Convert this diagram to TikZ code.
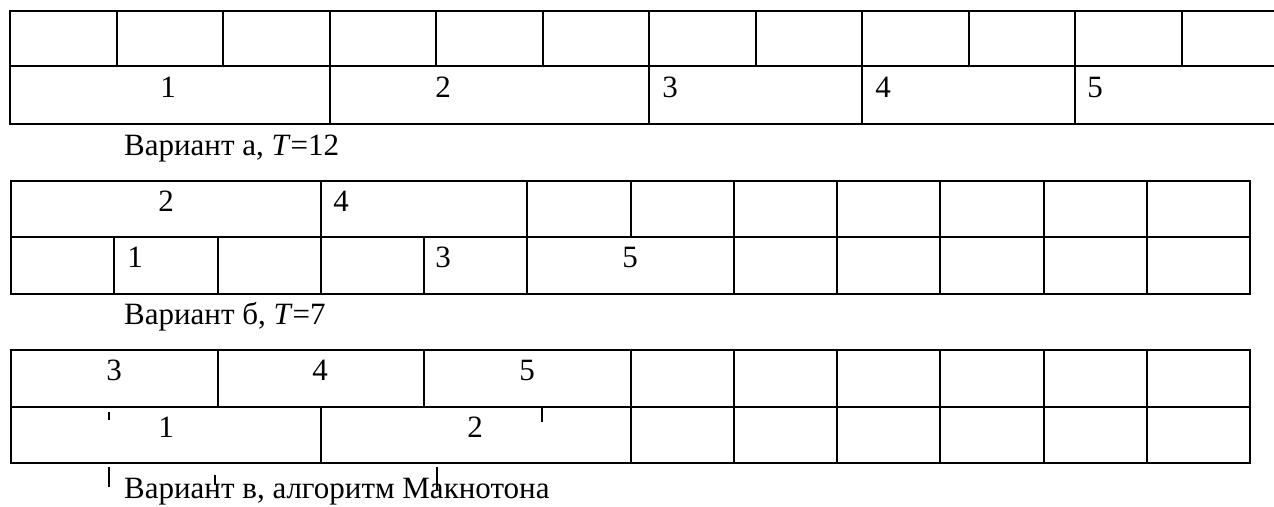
\documentclass[tikz,border=0pt]{standalone}
\usepackage{fontspec}
\setmainfont{Liberation Serif}
\begin{document}
\begin{tikzpicture}[x=1pt,y=-1pt,
  grid/.style={line width=2pt, line cap=rect},
  outer/.style={line width=2.6pt, line cap=rect},
  lbl/.style={anchor=base, inner sep=0pt, font=\fontsize{31}{36}\selectfont},
  captxt/.style={anchor=base west, inner sep=0pt, font=\fontsize{31}{36}\selectfont},
  tick/.style={line width=1.2pt}]
\useasboundingbox (0,0) rectangle (1274,506);
% ---------- table a ----------
\draw[outer] (1274,11) -- (10,11) -- (10,124) -- (1274,124);
\draw[grid] (10,66) -- (1274,66);
\foreach \k in {1,...,11} \draw[grid] ({10+106.5*\k},11) -- ({10+106.5*\k},66);
\foreach \k in {3,6,8,10} \draw[grid] ({10+106.5*\k},66) -- ({10+106.5*\k},124);
\node[lbl] (a1) at (168,97) {1};
\node[lbl] (a2) at (443,97) {2};
\node[lbl] (a3) at (670,97) {3};
\node[lbl] (a4) at (883,97) {4};
\node[lbl] (a5) at (1095,97) {5};
\node[captxt] (capa) at (124,155) {Вариант а, \textit{T}=12};
% ---------- table b ----------
\draw[outer] (11,181) rectangle (1250,294);
\draw[grid] (11,237) -- (1250,237);
\foreach \k in {3,5,6,7,8,9,10,11} \draw[grid] ({11+103.25*\k},181) -- ({11+103.25*\k},237);
\foreach \k in {1,2,3,4,5,7,8,9,10,11} \draw[grid] ({11+103.25*\k},237) -- ({11+103.25*\k},294);
\node[lbl] (b2) at (166,211) {2};
\node[lbl] (b4) at (341,211) {4};
\node[lbl] (b1) at (135,267) {1};
\node[lbl] (b3) at (443,267) {3};
\node[lbl] (b5) at (630,267) {5};
\node[captxt] (capb) at (124,324) {Вариант б, \textit{T}=7};
% ---------- table c ----------
\draw[outer] (11,350) rectangle (1250,463);
\draw[grid] (11,407) -- (1250,407);
\foreach \k in {2,4,6,7,8,9,10,11} \draw[grid] ({11+103.25*\k},350) -- ({11+103.25*\k},407);
\foreach \k in {3,6,7,8,9,10,11} \draw[grid] ({11+103.25*\k},407) -- ({11+103.25*\k},463);
\node[lbl] (c3) at (114,380) {3};
\node[lbl] (c4) at (320,380) {4};
\node[lbl] (c5) at (527,380) {5};
\node[lbl] (c1) at (166,437) {1};
\node[lbl] (c2) at (475,437) {2};
\node[captxt] (capc) at (124,498) {Вариант в, алгоритм Макнотона};
% ---------- stray ticks ----------
\draw[tick] (109,412) -- (109,420);
\draw[tick] (542,407) -- (542,422);
\draw[tick] (109,467) -- (109,487);
\draw[tick] (215,475) -- (215,485);
\draw[tick] (437,467) -- (437,490);
\end{tikzpicture}
\end{document}
